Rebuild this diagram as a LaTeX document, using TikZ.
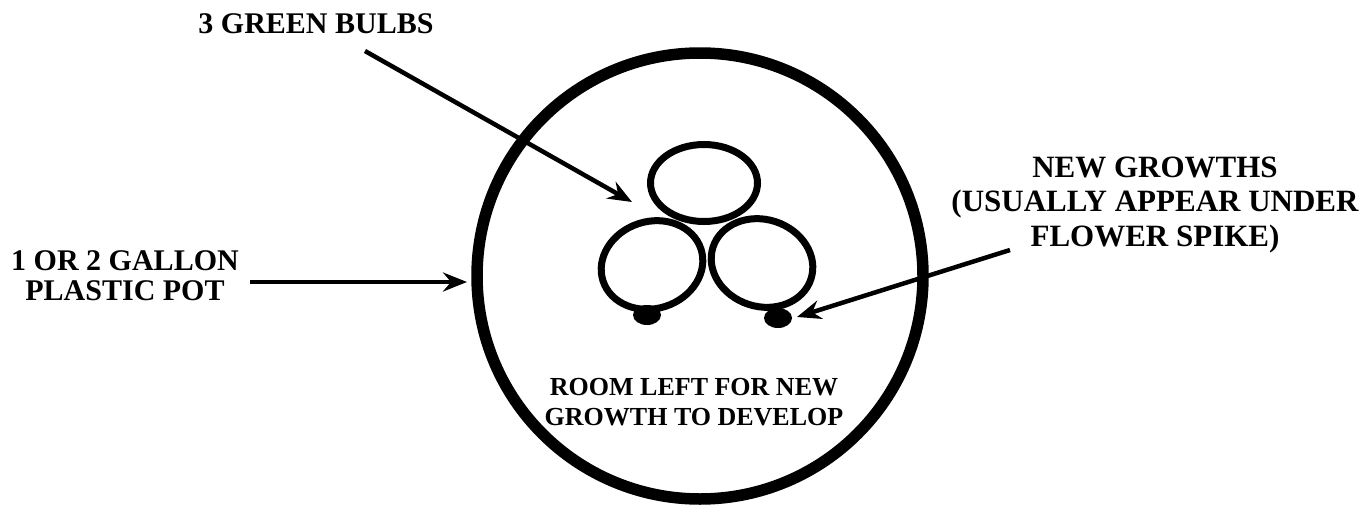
\documentclass[tikz,border=0pt]{standalone}
\usepackage{fontspec}
\setmainfont{Liberation Serif}
\usetikzlibrary{arrows.meta,shapes.geometric}
\begin{document}
\begin{tikzpicture}[x=1pt,y=-1pt,
  lab/.style={font=\bfseries\fontsize{30}{30}\selectfont, align=center, inner sep=0pt, anchor=base},
  roomlab/.style={font=\bfseries\fontsize{26}{30}\selectfont, align=center, inner sep=0pt, anchor=base},
  bulb/.style={draw, ellipse, line width=7pt, inner sep=0pt},
  growth/.style={fill, ellipse, inner sep=0pt, minimum width=28pt, minimum height=20pt},
  arr/.style={line width=4.5pt, -{Stealth[length=24pt,width=19pt,inset=8pt]}}]
\useasboundingbox (0,0) rectangle (1370,506);
% pot
\node[draw, circle, line width=11.5pt, minimum size=446pt, inner sep=0pt] (pot) at (700,276) {};
% bulbs
\node[bulb, minimum width=107pt, minimum height=77pt] (b1) at (704,183) {};
\node[bulb, minimum width=103pt, minimum height=87pt, rotate=18] (b2) at (652,265) {};
\node[bulb, minimum width=103pt, minimum height=87pt, rotate=-18] (b3) at (762,263) {};
% new growths
\node[growth] (g1) at (647,315) {};
\node[growth] (g2) at (778,318) {};
% labels (anchor = baseline of the last line)
\node[lab] (bulbslab) at (316,33) {3 GREEN BULBS};
\node[lab] (potlab) at (125,300) {1 OR 2 GALLON\\PLASTIC POT};
\node[lab, font=\bfseries\fontsize{31}{34.5}\selectfont] (growlab) at (1155,246) {NEW GROWTHS\\(USUALLY APPEAR UNDER\\FLOWER SPIKE)};
\node[roomlab] (roomlab) at (694,425) {ROOM LEFT FOR NEW\\GROWTH TO DEVELOP};
% connector ends
\coordinate (bs) at (365,51);
\coordinate (bt) at (632,202);
\coordinate (ps) at (250,282);
\coordinate (pt) at (467,282);
\coordinate (gs) at (1010,250);
\coordinate (gt) at (797,317);
\draw[arr] (bs) -- (bt);
\draw[arr] (ps) -- (pt);
\draw[arr] (gs) -- (gt);
\end{tikzpicture}
\end{document}
